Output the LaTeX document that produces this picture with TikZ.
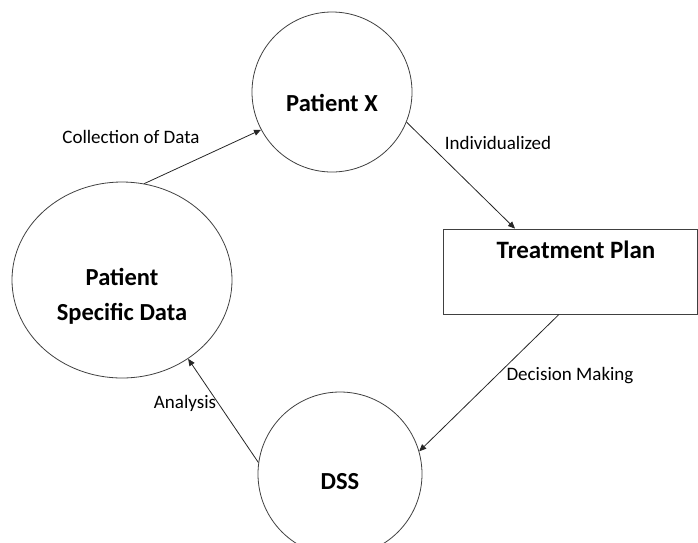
\documentclass[tikz,border=0pt]{standalone}
\usepackage{fontspec}
\setmainfont{Carlito}
\usetikzlibrary{arrows.meta,shapes.geometric}
\begin{document}
\begin{tikzpicture}[x=1pt,y=-1pt,
  shapebox/.style={draw=black!75, line width=0.8pt, inner sep=0pt},
  title/.style={font=\fontsize{24.5}{35}\selectfont\bfseries, align=center, inner sep=0pt},
  lbl/.style={font=\fontsize{19}{22}\selectfont, inner sep=0pt},
  conn/.style={draw=black!85, line width=0.8pt, -{Triangle[length=7pt,width=6pt]}}]
\useasboundingbox (0,0) rectangle (698,542);
\clip (0,0) rectangle (698,542);
\node[shapebox, circle, minimum size=160pt] (px) at (332,92) {};
\node[shapebox, ellipse, minimum width=220pt, minimum height=196pt] (psd) at (122,280) {};
\node[shapebox, rectangle, minimum width=254pt, minimum height=85pt] (tp) at (570,271.5) {};
\node[shapebox, circle, minimum size=164pt] (dss) at (340,474) {};
\node[title] (tpx) at (332,103) {Patient X};
\node[title] (tpsd) at (122,296) {Patient\\Specific Data};
\node[title, font=\fontsize{25}{35}\selectfont\bfseries] (ttp) at (576,250) {Treatment Plan};
\node[title] (tdss) at (340,482) {DSS};
\node[lbl] (l1) at (131,137) {Collection of Data};
\node[lbl] (l2) at (498,143) {Individualized};
\node[lbl] (l3) at (570,376) {Decision Making};
\node[lbl] (l4) at (185,403) {Analysis};
\draw[conn] (psd.77) -- (px.208);
\draw[conn] (px.338) -- ([xshift=-55pt]tp.north);
\draw[conn] ([xshift=-11pt]tp.south) -- (dss.16);
\draw[conn] (dss.172) -- (psd.310);
\end{tikzpicture}
\end{document}
